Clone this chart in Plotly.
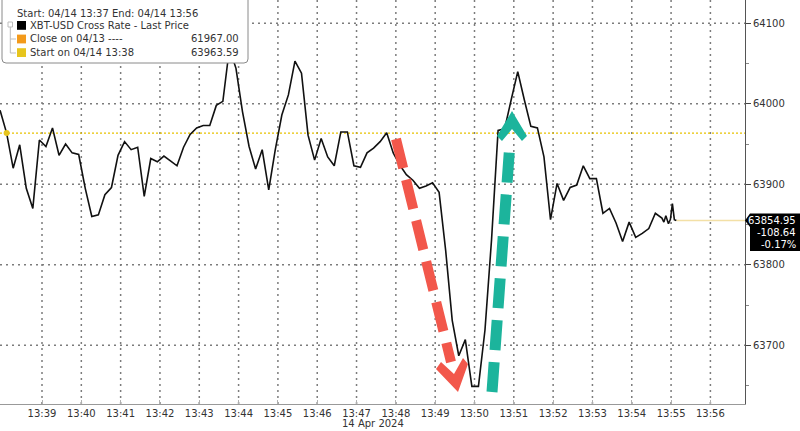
import plotly.graph_objects as go
import pandas as pd

# ---------------- data ----------------
start_time = "2024-04-14 13:38:06"
sample_seconds = list(range(-10, 1001, 10)) + [1003, 1006, 1010, 1013, 1016, 1019, 1022]
last_price = [
    63992, 63963.59, 63920, 63949, 63895, 63870, 63955, 63947, 63970, 63936,
    63950, 63939, 63937, 63895, 63860, 63862, 63887, 63896, 63936, 63953,
    63943, 63946, 63885, 63932, 63928, 63935, 63929, 63923, 63946, 63962,
    63970, 63973, 63973, 63998, 64003, 64069, 64044, 63990, 63947, 63919,
    63943, 63893, 63943, 63986, 64011, 64053, 64038, 63961, 63930, 63957,
    63934, 63923, 63965, 63965, 63923, 63921, 63939, 63945, 63953, 63964,
    63939, 63924, 63912, 63905, 63895, 63898, 63902, 63890, 63818, 63731,
    63687, 63707, 63649, 63649, 63719, 63831, 63967, 63969, 64005, 64040,
    64005, 63972, 63970, 63934, 63856, 63901, 63880, 63896, 63899, 63923,
    63907, 63907, 63864, 63870, 63852, 63829, 63853, 63834, 63839, 63845,
    63864, 63858,
    63853, 63861, 63851, 63856.5, 63876, 63856, 63854.95,
]
start_price = 63963.59
close_prev = 61967.00
legend_header = "Start: 04/14 13:37 End: 04/14 13:56"
legend_names = ["XBT-USD Cross Rate - Last Price", "Close on 04/13 ----", "Start on 04/14 13:38"]
legend_values = ["", f"{close_prev:.2f}", f"{start_price:.2f}"]
legend_colors = ["#000000", "#F39A1B", "#E7C51E"]
y_ticks = [63700, 63800, 63900, 64000, 64100]
x_ticks = pd.date_range("2024-04-14 13:39", "2024-04-14 13:56", freq="1min")
date_label = "14 Apr 2024"

times = pd.Timestamp(start_time) + pd.to_timedelta(sample_seconds, unit="s")
last = last_price[-1]
chg = last - start_price
pct = chg / start_price * 100

# ---------------- geometry helpers (plot area in px) ----------------
PW, PH = 745.0, 404.0
def px(x):
    return x / PW
def py(y):
    return 1 - y / PH
def path(points):
    return "M " + " L ".join(f"{px(a):.5f},{py(b):.5f}" for a, b in points) + " Z"

FONT = "DejaVu Sans"
RED = "#F2574B"
TEAL = "#1CB49C"
GRID = "#7c7c7c"
GRID_DASH = "2px,4px"

fig = go.Figure()

fig.add_trace(go.Scatter(
    x=times, y=last_price, mode="lines",
    line=dict(color="#111111", width=1.6), hoverinfo="skip", showlegend=False,
))
fig.add_trace(go.Scatter(
    x=[times[1]], y=[start_price], mode="markers",
    marker=dict(color="#E7C51E", size=6), hoverinfo="skip", showlegend=False,
))

x_end = "2024-04-14 13:56:52.8"
shapes = []
# dotted grid
for v in y_ticks:
    shapes.append(dict(type="line", xref="paper", yref="y", x0=0, x1=1, y0=v, y1=v,
                       layer="below", line=dict(color=GRID, width=1.5, dash=GRID_DASH)))
for t in x_ticks:
    shapes.append(dict(type="line", xref="x", yref="paper", x0=t, x1=t, y0=0, y1=1,
                       layer="below", line=dict(color=GRID, width=1.5, dash=GRID_DASH)))
# start reference dotted line
shapes.append(dict(type="line", xref="paper", yref="y", x0=0, x1=1,
                   y0=start_price, y1=start_price, layer="below",
                   line=dict(color="#E8C200", width=1.2, dash="2px,2px")))
# last price line
shapes.append(dict(type="line", xref="x", yref="y", x0=times[-1], x1=x_end,
                   y0=last, y1=last, layer="below",
                   line=dict(color="#F3E0A6", width=1.5)))

# legend box (rounded)
r = 4
L, T, R, B = 2, -6, 248, 63
box = (f"M {px(L+r)},{py(T)} L {px(R-r)},{py(T)} Q {px(R)},{py(T)} {px(R)},{py(T+r)} "
       f"L {px(R)},{py(B-r)} Q {px(R)},{py(B)} {px(R-r)},{py(B)} "
       f"L {px(L+r)},{py(B)} Q {px(L)},{py(B)} {px(L)},{py(B-r)} "
       f"L {px(L)},{py(T+r)} Q {px(L)},{py(T)} {px(L+r)},{py(T)} Z")
shapes.append(dict(type="path", xref="paper", yref="paper", path=box, layer="above",
                   fillcolor="white", line=dict(color="#8a8a8a", width=1)))
# tree connector
shapes.append(dict(type="rect", xref="paper", yref="paper", x0=px(8), x1=px(12.5),
                   y0=py(27), y1=py(22), layer="above", line=dict(color="#bdbdbd", width=1)))
shapes.append(dict(type="line", xref="paper", yref="paper", x0=px(10.3), x1=px(10.3),
                   y0=py(27), y1=py(53), layer="above", line=dict(color="#bdbdbd", width=1)))
for yy in (39, 53):
    shapes.append(dict(type="line", xref="paper", yref="paper", x0=px(10.3), x1=px(16),
                       y0=py(yy), y1=py(yy), layer="above", line=dict(color="#bdbdbd", width=1)))
for i, c in enumerate(legend_colors):
    y0 = 21 + i * 13.6
    shapes.append(dict(type="rect", xref="paper", yref="paper", x0=px(17), x1=px(26),
                       y0=py(y0 + 8.8), y1=py(y0), layer="above", fillcolor=c,
                       line=dict(width=0)))

# red dashed arrow (down)
shapes.append(dict(type="line", xref="paper", yref="paper", x0=px(396), y0=py(139),
                   x1=px(451), y1=py(362), layer="above",
                   line=dict(color=RED, width=10, dash="30px,12px")))
shapes.append(dict(type="path", xref="paper", yref="paper", layer="above",
                   path=path([(436, 369), (441, 362), (454, 374), (463, 358), (468, 364), (458, 392)]),
                   fillcolor=RED, line=dict(width=0)))
# teal dashed arrow (up)
shapes.append(dict(type="line", xref="paper", yref="paper", x0=px(492), y0=py(392),
                   x1=px(510), y1=py(142), layer="above",
                   line=dict(color=TEAL, width=11, dash="30px,12px")))
shapes.append(dict(type="path", xref="paper", yref="paper", layer="above",
                   path=path([(512, 111), (527, 136), (522, 141), (512, 129), (502, 141), (497, 136)]),
                   fillcolor=TEAL, line=dict(width=0)))

# last-price tag
shapes.append(dict(type="path", xref="paper", yref="paper", layer="above",
                   path=path([(745, 220.6), (750, 213.5), (800, 213.5), (800, 251),
                              (750, 251), (750, 227)]),
                   fillcolor="black", line=dict(width=0)))

ann = []
ann.append(dict(xref="paper", yref="paper", x=px(15), y=py(13.5), xanchor="left",
                yanchor="middle", text=legend_header, showarrow=False,
                font=dict(family=FONT, size=10, color="#333")))
for i, (n, v) in enumerate(zip(legend_names, legend_values)):
    yc = 25.4 + i * 13.6
    ann.append(dict(xref="paper", yref="paper", x=px(28), y=py(yc), xanchor="left",
                    yanchor="middle", text=n, showarrow=False,
                    font=dict(family=FONT, size=10, color="#333")))
    if v:
        ann.append(dict(xref="paper", yref="paper", x=px(241), y=py(yc), xanchor="right",
                        yanchor="middle", text=v, showarrow=False,
                        font=dict(family=FONT, size=10, color="#333")))
for j, t in enumerate([f"{last:.2f}", f"{chg:.2f}", f"{pct:.2f}%"]):
    ann.append(dict(xref="paper", yref="paper", x=px(798), y=py(220.7 + j * 12),
                    xanchor="right", yanchor="middle", text=t, showarrow=False,
                    font=dict(family=FONT, size=10, color="white")))
ann.append(dict(xref="paper", yref="paper", x=px(373), y=py(423), xanchor="center",
                yanchor="middle", text=date_label, showarrow=False,
                font=dict(family=FONT, size=10, color="#333")))

fig.update_layout(
    width=800, height=431,
    margin=dict(l=0, r=55, t=0, b=27, pad=0),
    paper_bgcolor="white", plot_bgcolor="rgba(0,0,0,0)",
    showlegend=False,
    shapes=shapes, annotations=ann,
    xaxis=dict(
        type="date", range=["2024-04-14 13:37:55.9", x_end],
        tickvals=x_ticks, tickformat="%H:%M",
        ticks="inside", ticklen=4, tickcolor="#b0b0b0",
        showline=True, linecolor="#999999", linewidth=1,
        showgrid=False,
        zeroline=False, tickfont=dict(family=FONT, size=10, color="#333"),
        fixedrange=True, automargin=False,
    ),
    yaxis=dict(
        side="right", range=[63627.1, 64128.9],
        tickvals=y_ticks, ticktext=[str(v) for v in y_ticks],
        ticks="outside", ticklen=5, tickcolor="#444",
        showline=True, linecolor="#555555", linewidth=1,
        showgrid=False,
        zeroline=False, tickfont=dict(family=FONT, size=10, color="#333"),
        minor=dict(tickvals=[63650, 63750, 63850, 63950, 64050], ticks="outside",
                   ticklen=3, tickcolor="#888", showgrid=False),
        fixedrange=True, automargin=False,
    ),
)

fig.write_html("out.html", config={"displayModeBar": False},
               post_script="document.body.style.margin='0';document.body.style.overflow='hidden';")
